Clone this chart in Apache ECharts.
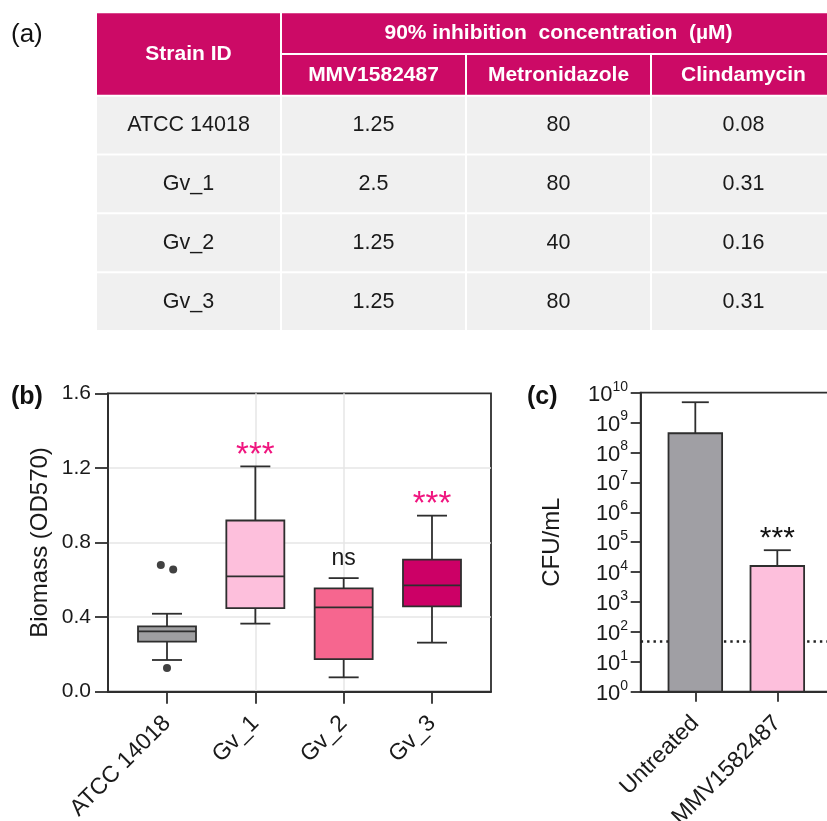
<!DOCTYPE html>
<html>
<head>
<meta charset="utf-8">
<script src="https://cdn.jsdelivr.net/npm/echarts@6/dist/echarts.min.js"></script>
<style>
html,body{margin:0;padding:0;background:#ffffff;}
#chart{width:827px;height:821px;}
</style>
</head>
<body>
<div id="chart"></div>
<script>
// ---------- (a) table data ----------
const strains = ['ATCC 14018', 'Gv_1', 'Gv_2', 'Gv_3'];
const tableHeader = ['Strain ID', '90% inhibition  concentration  (µM)'];
const drugs = ['MMV1582487', 'Metronidazole', 'Clindamycin'];
const ic90MMV = ['1.25', '2.5', '1.25', '1.25'];
const ic90Metronidazole = ['80', '80', '40', '80'];
const ic90Clindamycin = ['0.08', '0.31', '0.16', '0.31'];

// ---------- (b) biofilm biomass box plot ----------
const boxCategories = ['ATCC 14018', 'Gv_1', 'Gv_2', 'Gv_3'];
const boxMin = [0.170, 0.365, 0.077, 0.263];
const boxQ1 = [0.268, 0.448, 0.175, 0.457];
const boxMedian = [0.323, 0.618, 0.452, 0.570];
const boxQ3 = [0.350, 0.918, 0.554, 0.708];
const boxMax = [0.418, 1.208, 0.609, 0.944];
const outlierGroup = [0, 0, 0];
const outlierJitter = [-0.07, 0.07, 0];
const outlierValue = [0.68, 0.655, 0.127];
const boxSignificance = ['', '***', 'ns', '***'];

// ---------- (c) CFU bar chart ----------
const cfuCategories = ['Untreated', 'MMV1582487'];
const cfuMean = [4.4e8, 1.6e4];
const cfuUpper = [4.8e9, 5.4e4];
const cfuSignificance = ['', '***'];
const detectionLimit = 50;

// ---------- styles ----------
const FONT = '"Liberation Sans", Arial, Helvetica, sans-serif';
const INK = '#1a1a1a';
const LINE = '#2e2e2e';
const HEADER_FILL = '#cc0a66';
const CELL_FILL = '#f0f0f0';
const SIG_PINK = '#f0157f';
const boxColors = ['#9f9fa1', '#fdbfdc', '#f6668f', '#cc0066'];
const barColors = ['#a09fa4', '#fdbfdc'];

// ---------- build table cells ----------
const headerCells = [
  [0, 1, 0, 2, tableHeader[0]],
  [1, 1 + drugs.length, 0, 1, tableHeader[1]]
].concat(drugs.map((d, i) => [i + 1, i + 2, 1, 2, d]));
const bodyColumns = [strains, ic90MMV, ic90Metronidazole, ic90Clindamycin];
const bodyCells = [];
strains.forEach((s, r) => {
  bodyColumns.forEach((col, c) => bodyCells.push([c, c + 1, r, r + 1, col[r]]));
});

function tableRenderer(cells, fill, color, weight, size) {
  return function (params, api) {
    const p0 = api.coord([api.value(0), api.value(2)]);
    const p1 = api.coord([api.value(1), api.value(3)]);
    const x = p0[0] + 1, y = p0[1] + 1;
    const w = p1[0] - p0[0] - 2, h = p1[1] - p0[1] - 2;
    return {
      type: 'group',
      children: [
        { type: 'rect', shape: { x: x, y: y, width: w, height: h }, style: { fill: fill } },
        {
          type: 'text', x: x + w / 2, y: y + h / 2,
          style: {
            text: cells[params.dataIndex][4], fill: color, fontFamily: FONT,
            fontWeight: weight, fontSize: size, align: 'center', verticalAlign: 'middle'
          }
        }
      ]
    };
  };
}

function ls() { return { stroke: LINE, lineWidth: 1.8 }; }

function renderBox(params, api) {
  const x = api.value(0);
  const pMin = api.coord([x, api.value(1)]);
  const pQ1 = api.coord([x, api.value(2)]);
  const pMed = api.coord([x, api.value(3)]);
  const pQ3 = api.coord([x, api.value(4)]);
  const pMax = api.coord([x, api.value(5)]);
  const cx = pMin[0], hw = 29, cw = 15;
  return {
    type: 'group',
    children: [
      { type: 'line', shape: { x1: cx, y1: pMin[1], x2: cx, y2: pQ1[1] }, style: ls() },
      { type: 'line', shape: { x1: cx, y1: pQ3[1], x2: cx, y2: pMax[1] }, style: ls() },
      { type: 'line', shape: { x1: cx - cw, y1: pMin[1], x2: cx + cw, y2: pMin[1] }, style: ls() },
      { type: 'line', shape: { x1: cx - cw, y1: pMax[1], x2: cx + cw, y2: pMax[1] }, style: ls() },
      { type: 'rect', shape: { x: cx - hw, y: pQ3[1], width: 2 * hw, height: pQ1[1] - pQ3[1] },
        style: { fill: boxColors[params.dataIndex], stroke: LINE, lineWidth: 1.8 } },
      { type: 'line', shape: { x1: cx - hw, y1: pMed[1], x2: cx + hw, y2: pMed[1] }, style: ls() }
    ]
  };
}

function renderBar(params, api) {
  const x = api.value(0);
  const pBase = api.coord([x, 1]);
  const pTop = api.coord([x, api.value(1)]);
  const pErr = api.coord([x, api.value(2)]);
  const cx = pTop[0], hw = 26.8, cw = 13.5;
  return {
    type: 'group',
    children: [
      { type: 'line', shape: { x1: cx, y1: pTop[1], x2: cx, y2: pErr[1] }, style: ls() },
      { type: 'line', shape: { x1: cx - cw, y1: pErr[1], x2: cx + cw, y2: pErr[1] }, style: ls() },
      { type: 'rect', shape: { x: cx - hw, y: pTop[1], width: 2 * hw, height: pBase[1] - pTop[1] },
        style: { fill: barColors[params.dataIndex], stroke: LINE, lineWidth: 1.8 } }
    ]
  };
}

function sigRenderer(labels, starColor, starSize) {
  return function (params, api) {
    const t = labels[params.dataIndex];
    if (!t) return null;
    const p = api.coord([api.value(0), api.value(1)]);
    const isStar = t.indexOf('*') >= 0;
    return {
      type: 'text', x: p[0], y: p[1] - (isStar ? 11 : 19),
      style: {
        text: t, fill: isStar ? starColor : INK, fontFamily: FONT,
        fontSize: isStar ? starSize : 23, align: 'center', verticalAlign: 'middle'
      }
    };
  };
}

const boxIdx = boxCategories.map((c, i) => i);
const cfuIdx = cfuCategories.map((c, i) => i);

const hiddenAxis = { show: false };

const option = {
  animation: false,
  backgroundColor: '#ffffff',
  title: [
    { text: '(a)', left: 11, top: 22, padding: 0, textStyle: { fontSize: 26, fontWeight: 'normal', color: '#111', fontFamily: FONT } },
    { text: '(b)', left: 11, top: 385, padding: 0, textStyle: { fontSize: 25, fontWeight: 'bold', color: '#111', fontFamily: FONT } },
    { text: '(c)', left: 527, top: 385, padding: 0, textStyle: { fontSize: 25, fontWeight: 'bold', color: '#111', fontFamily: FONT } }
  ],
  grid: [
    { left: 108, top: 393.3, width: 383, height: 298.4, show: true, borderColor: LINE, borderWidth: 1.8,
      backgroundColor: 'transparent', containLabel: false, outerBoundsMode: 'none' },
    { left: 640.7, top: 392.7, width: 246, height: 299, show: true, borderColor: LINE, borderWidth: 1.8,
      backgroundColor: 'transparent', containLabel: false, outerBoundsMode: 'none' },
    { left: 96, top: 12.3, width: 740, height: 83.4, containLabel: false, outerBoundsMode: 'none' },
    { left: 96, top: 95.7, width: 740, height: 235.3, containLabel: false, outerBoundsMode: 'none' }
  ],
  xAxis: [
    {
      gridIndex: 0, type: 'value', min: -0.668, max: 3.668,
      axisLine: { show: true, onZero: false, lineStyle: { color: LINE, width: 1.8 } },
      axisTick: { show: true, customValues: boxIdx, length: 12, lineStyle: { color: LINE, width: 1.8 } },
      axisLabel: {
        customValues: boxIdx, rotate: 45, margin: 28, fontSize: 23, color: INK, fontFamily: FONT,
        formatter: v => boxCategories[Math.round(v)]
      },
      splitLine: { show: true, showMinLine: false, showMaxLine: false, lineStyle: { color: '#e6e6e6', width: 1.5 } }
    },
    {
      gridIndex: 1, type: 'value', min: -0.666, max: 2.334,
      axisLine: { show: true, onZero: false, lineStyle: { color: LINE, width: 1.8 } },
      axisTick: { show: true, customValues: cfuIdx, length: 10, lineStyle: { color: LINE, width: 1.8 } },
      axisLabel: {
        customValues: cfuIdx, rotate: 45, margin: 28, fontSize: 23, color: INK, fontFamily: FONT,
        formatter: v => cfuCategories[Math.round(v)]
      },
      splitLine: { show: false }
    },
    Object.assign({ gridIndex: 2, type: 'value', min: 0, max: 4 }, hiddenAxis),
    Object.assign({ gridIndex: 3, type: 'value', min: 0, max: 4 }, hiddenAxis)
  ],
  yAxis: [
    {
      gridIndex: 0, type: 'value', min: 0, max: 1.6, interval: 0.4,
      name: 'Biomass (OD570)', nameLocation: 'middle', nameGap: 56,
      nameTextStyle: { fontSize: 24, color: INK, fontFamily: FONT },
      axisLine: { show: true, onZero: false, lineStyle: { color: LINE, width: 1.8 } },
      axisTick: { show: true, length: 13, lineStyle: { color: LINE, width: 1.8 } },
      axisLabel: { margin: 17, fontSize: 21, color: INK, fontFamily: FONT, formatter: v => v.toFixed(1) },
      splitLine: { show: true, showMinLine: false, showMaxLine: false, lineStyle: { color: '#e6e6e6', width: 1.5 } }
    },
    {
      gridIndex: 1, type: 'log', logBase: 10, min: 1, max: 1e10, interval: 1,
      name: 'CFU/mL', nameLocation: 'middle', nameGap: 76,
      nameTextStyle: { fontSize: 24, color: INK, fontFamily: FONT },
      axisLine: { show: true, onZero: false, lineStyle: { color: LINE, width: 1.8 } },
      axisTick: { show: true, length: 10, lineStyle: { color: LINE, width: 1.8 } },
      minorTick: { show: false },
      axisLabel: {
        margin: 12, color: INK, fontFamily: FONT,
        formatter: v => '{a|10}{b|' + Math.round(Math.log10(v)) + '}{c| }',
        rich: {
          a: { fontSize: 22, lineHeight: 22, verticalAlign: 'bottom', color: INK, fontFamily: FONT },
          b: { fontSize: 14, lineHeight: 14, verticalAlign: 'top', color: INK, fontFamily: FONT },
          c: { fontSize: 2, lineHeight: 26, verticalAlign: 'middle' }
        }
      },
      splitLine: { show: false }
    },
    Object.assign({ gridIndex: 2, type: 'value', min: 0, max: 2, inverse: true }, hiddenAxis),
    Object.assign({ gridIndex: 3, type: 'value', min: 0, max: 4, inverse: true }, hiddenAxis)
  ],
  series: [
    {
      type: 'custom', name: 'table header', xAxisIndex: 2, yAxisIndex: 2,
      encode: { x: [0, 1], y: [2, 3] },
      data: headerCells.map(c => c.slice(0, 4)),
      renderItem: tableRenderer(headerCells, HEADER_FILL, '#ffffff', 'bold', 21)
    },
    {
      type: 'custom', name: 'table body', xAxisIndex: 3, yAxisIndex: 3,
      encode: { x: [0, 1], y: [2, 3] },
      data: bodyCells.map(c => c.slice(0, 4)),
      renderItem: tableRenderer(bodyCells, CELL_FILL, INK, 'normal', 21.5)
    },
    {
      type: 'custom', name: 'biomass', xAxisIndex: 0, yAxisIndex: 0, z: 3,
      encode: { x: 0, y: [1, 2, 3, 4, 5] },
      data: boxCategories.map((c, i) => [i, boxMin[i], boxQ1[i], boxMedian[i], boxQ3[i], boxMax[i]]),
      renderItem: renderBox
    },
    {
      type: 'scatter', name: 'outliers', xAxisIndex: 0, yAxisIndex: 0, z: 4,
      symbol: 'circle', symbolSize: 8, itemStyle: { color: '#111111' },
      data: outlierGroup.map((g, i) => [g + outlierJitter[i], outlierValue[i]])
    },
    {
      type: 'custom', name: 'biomass significance', xAxisIndex: 0, yAxisIndex: 0, z: 4,
      encode: { x: 0, y: 1 },
      data: boxCategories.map((c, i) => [i, boxMax[i]]),
      renderItem: sigRenderer(boxSignificance, SIG_PINK, 33)
    },
    {
      type: 'custom', name: 'CFU', xAxisIndex: 1, yAxisIndex: 1, z: 3,
      encode: { x: 0, y: [1, 2] },
      data: cfuCategories.map((c, i) => [i, cfuMean[i], cfuUpper[i]]),
      renderItem: renderBar,
      markLine: {
        silent: true, symbol: 'none', z: 1, animation: false,
        label: { show: false },
        lineStyle: { color: '#222222', width: 2.6, type: [2.4, 4], cap: 'butt' },
        data: [{ yAxis: detectionLimit }]
      }
    },
    {
      type: 'custom', name: 'CFU significance', xAxisIndex: 1, yAxisIndex: 1, z: 4,
      encode: { x: 0, y: 1 },
      data: cfuCategories.map((c, i) => [i, cfuUpper[i]]),
      renderItem: sigRenderer(cfuSignificance, '#111111', 30)
    }
  ]
};

const chart = echarts.init(document.getElementById('chart'), null, { renderer: 'canvas' });
chart.setOption(option);
</script>
</body>
</html>
